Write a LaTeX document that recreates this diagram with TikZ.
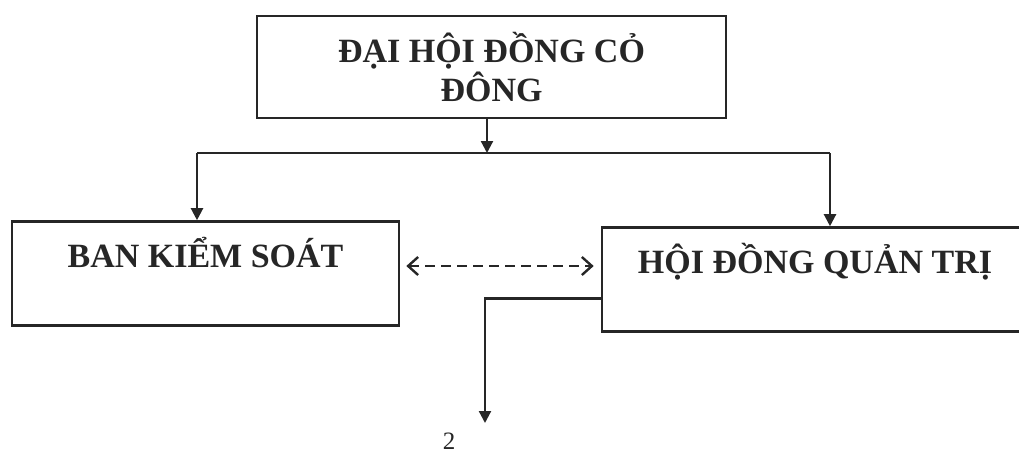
\documentclass[tikz,border=0pt]{standalone}
\usepackage{fontspec}
\setmainfont{Liberation Serif}
\usetikzlibrary{arrows.meta}
\tikzset{
  orgbox/.style={draw=black!85,line width=1.3pt,inner sep=0pt,
    font=\fontsize{17}{15.5}\selectfont\bfseries,text=black!85},
  unitbox/.style={orgbox,anchor=base,text height=22.75pt,text depth=29.25pt},
  link/.style={draw=black!85,line width=1.1pt},
}
\begin{document}
\begin{tikzpicture}[x=0.5pt,y=-0.5pt,>={Triangle[length=6pt,width=6pt]}]
     \clip (0,0) rectangle (1019,452);
     \node[orgbox,minimum width=234.5pt,minimum height=51pt,align=center]
       (dhdcd) at (491.5,67) {ĐẠI HỘI ĐỒNG CỎ\\ĐÔNG};
     \node[unitbox,minimum width=193.5pt] (bks) at (205.5,267) {BAN KIỂM SOÁT};
     \node[unitbox,minimum width=213pt] (hdqt) at (815,273) {HỘI ĐỒNG QUẢN TRỊ};
     \coordinate (bl) at (197,153);
     \coordinate (br) at (830,153);
     \coordinate (out) at (485,423);
     \draw[link] (bl) -- (br);
     \draw[link,->] ([xshift=-2.25pt]dhdcd.south) -- ([xshift=-2.25pt]dhdcd.south |- bl);
     \draw[link,->] (bl) -- (bl |- bks.north);
     \draw[link,->] (br) -- (br |- hdqt.north);
     \draw[link,dash pattern=on 5pt off 3pt,line width=1.2pt,
       {Straight Barb[length=5pt,width=9pt]}-{Straight Barb[length=5pt,width=9pt]}]
       ([xshift=3pt,yshift=0.5pt]bks.base east) -- ([xshift=-3.5pt,yshift=0.5pt]bks.base east -| hdqt.west);
     \draw[link,->] ([yshift=-9.5pt]hdqt.west) -| (out);
     \node[font=\fontsize{12.5}{14}\selectfont,text=black!85,inner sep=0pt,anchor=base] (pg) at (449,449) {2};
   \end{tikzpicture}
\end{document}
